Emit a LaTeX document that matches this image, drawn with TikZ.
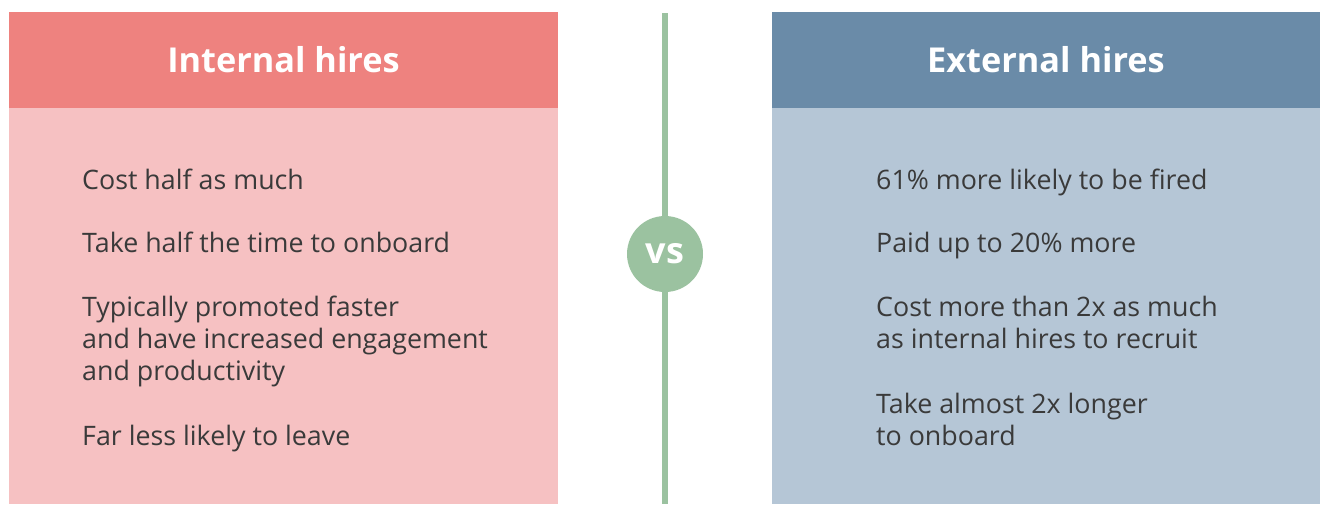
\documentclass[tikz,border=0pt]{standalone}
\usepackage{fontspec}
\setmainfont{Open Sans}
\usetikzlibrary{positioning}

\definecolor{intHead}{HTML}{EE827F}
\definecolor{intBody}{HTML}{F6C1C2}
\definecolor{extHead}{HTML}{6A8BA8}
\definecolor{extBody}{HTML}{B5C6D6}
\definecolor{vsGreen}{HTML}{9BC2A0}
\definecolor{itemText}{HTML}{3A3A3A}

\begin{document}
\begin{tikzpicture}[x=1pt, y=-1pt,
	head/.style={minimum width=549pt, minimum height=96pt, inner sep=0pt,
		text=white, font=\fontsize{34.3}{40}\selectfont\bfseries},
	item/.style={anchor=base west, inner sep=0pt, align=left, text=itemText,
		font=\fontsize{26.8}{32}\selectfont}]

\useasboundingbox (0,0) rectangle (1320,504);

% panels
\fill[intBody] (9,13) rectangle (558,504);
\fill[extBody] (772,13) rectangle (1320,504);

\node[head, fill=intHead] (inthead) at (283.5,60) {Internal hires};
\node[head, fill=extHead] (exthead) at (1046,60) {External hires};

% middle line and circle
\coordinate (linetop) at (665,13);
\coordinate (linebot) at (665,504);
\node[circle, fill=vsGreen, minimum size=76pt, inner sep=0pt, text=white,
	font=\fontsize{36}{40}\selectfont\bfseries] (vs) at (665,254) {vs};
\draw[vsGreen, line width=6pt] (linetop) -- (vs);
\draw[vsGreen, line width=6pt] (vs) -- (linebot);

% internal (base = last line)
\node[item] (int1) at (82,189) {Cost half as much};
\node[item] (int2) at (82,252) {Take half the time to onboard};
\node[item] (int3) at (82,380) {Typically promoted faster\\and have increased engagement\\and productivity};
\node[item] (int4) at (82,445) {Far less likely to leave};

% external
\node[item] (ext1) at (876,189) {61\% more likely to be fired};
\node[item] (ext2) at (876,252) {Paid up to 20\% more};
\node[item] (ext3) at (876,348) {Cost more than 2x as much\\as internal hires to recruit};
\node[item] (ext4) at (876,445) {Take almost 2x longer\\to onboard};

\end{tikzpicture}
\end{document}
